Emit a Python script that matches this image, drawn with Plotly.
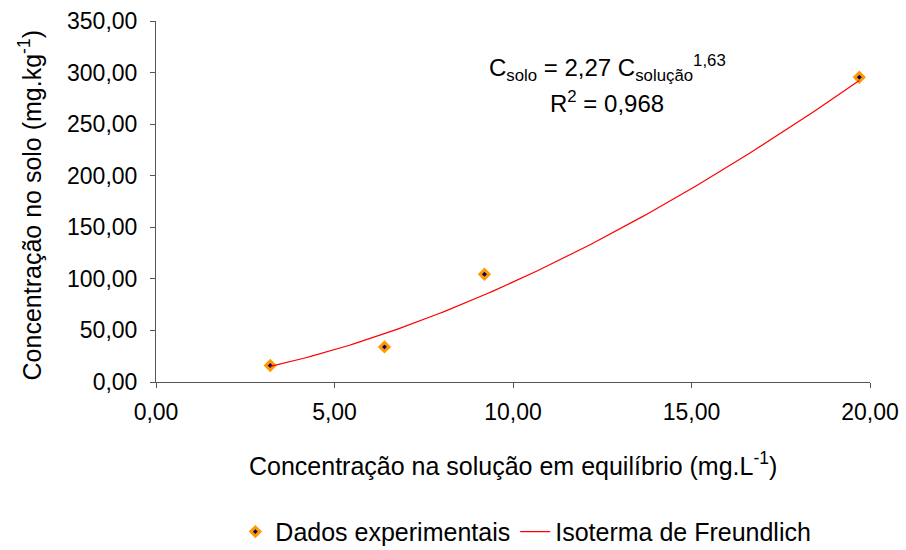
import numpy as np
import plotly.graph_objects as go

# Experimental equilibrium data
c_solucao = [3.2, 6.4, 9.2, 19.7]        # mg/L
c_solo = [16.0, 34.0, 104.5, 295.5]      # mg/kg

# Freundlich isotherm coefficients (C_solo = K * C_solucao^n)
K_f = 2.27
n_f = 1.63

x_fit = np.linspace(min(c_solucao), max(c_solucao), 120)
y_fit = K_f * x_fit ** n_f

FONT = "Liberation Sans, Arial, sans-serif"

fig = go.Figure()
fig.add_trace(go.Scatter(
    x=c_solucao, y=c_solo, mode="markers", name="Dados experimentais",
    marker=dict(symbol="diamond", size=7, color="#000080",
                line=dict(color="#FF9900", width=3)),
))
fig.add_trace(go.Scatter(
    x=x_fit, y=y_fit, mode="lines", name="Isoterma de Freundlich",
    line=dict(color="#FF0000", width=1.2),
))

axis_common = dict(
    showgrid=False, zeroline=False, showline=True, linecolor="#555555",
    linewidth=1, ticks="outside", ticklen=5, tickcolor="#555555",
    tickfont=dict(family=FONT, size=23, color="#000000"),
    tickformat=".2f", automargin=False,
)
fig.update_xaxes(range=[0, 20], dtick=5, ticklabelstandoff=4, **axis_common)
fig.update_yaxes(range=[0, 350], dtick=50, ticklabelstandoff=8, **axis_common)

fig.add_annotation(
    xref="paper", yref="paper", x=0.5, y=-0.228, yanchor="middle",
    text="Concentração na solução em equilíbrio (mg.L<sup>-1</sup>)",
    showarrow=False, font=dict(family=FONT, size=25, color="#000000"),
)
fig.add_annotation(
    xref="paper", yref="paper", x=-0.176, y=0.49, xanchor="center",
    textangle=-90,
    text="Concentração no solo (mg.kg<sup>-1</sup>)",
    showarrow=False, font=dict(family=FONT, size=25, color="#000000"),
)
fig.add_annotation(
    xref="paper", yref="paper", x=0.632, y=0.87, yanchor="middle",
    text="C<sub>solo</sub> = 2,27 C<sub>solução</sub><sup>1,63</sup>",
    showarrow=False, font=dict(family=FONT, size=24, color="#000000"),
)
fig.add_annotation(
    xref="paper", yref="paper", x=0.632, y=0.775, yanchor="middle",
    text="R<sup>2</sup> = 0,968",
    showarrow=False, font=dict(family=FONT, size=24, color="#000000"),
)

fig.update_layout(
    width=906, height=550,
    margin=dict(l=156, r=36, t=21, b=168, autoexpand=False),
    plot_bgcolor="white", paper_bgcolor="white",
    separators=",.",
    showlegend=True,
    legend=dict(orientation="h", x=0.518, xanchor="center", y=-0.415,
                yanchor="middle", font=dict(family=FONT, size=25, color="#000000"),
                itemwidth=30),
)

fig.write_html("out.html")
